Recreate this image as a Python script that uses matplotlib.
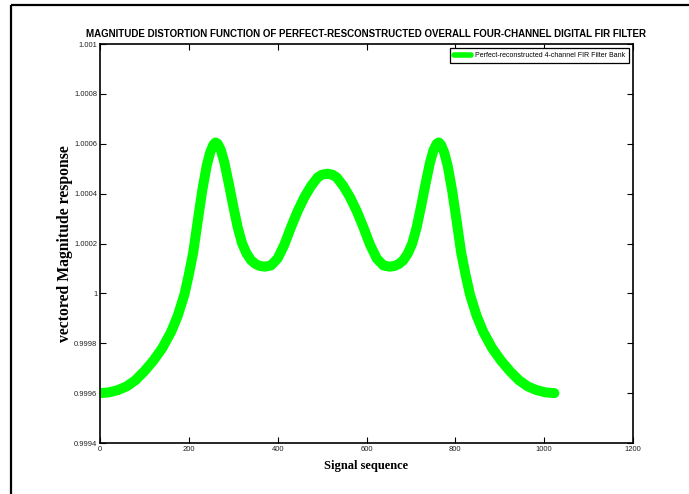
import matplotlib
matplotlib.use("Agg")
import matplotlib.pyplot as plt
from matplotlib.lines import Line2D

# Sample index and magnitude of the overall distortion function
sample_index = [0, 20, 40, 60, 80, 100, 120, 140, 160, 175, 190, 200, 210, 220,
                230, 240, 248, 255, 260, 265, 272, 280, 290, 300, 310, 320, 330,
                340, 350, 360, 371, 385, 400, 415, 430, 445, 460, 475, 490, 500,
                512,
                523, 533, 548, 563, 578, 593, 608, 623, 638, 652, 663, 673, 683,
                693, 703, 713, 723, 733, 743, 751, 758, 763, 768, 775, 783, 793,
                803, 813, 823, 833, 848, 863, 883, 903, 923, 943, 963, 983, 1003,
                1023]
magnitude = [0.99960, 0.999603, 0.999612, 0.999627, 0.999652, 0.999688, 0.999730,
             0.999780, 0.999845, 0.999910, 0.999995, 1.000075, 1.000165, 1.000290,
             1.000410, 1.000510, 1.000565, 1.000595, 1.000605, 1.000600, 1.000575,
             1.000525, 1.000440, 1.000350, 1.000265, 1.000200, 1.000160, 1.000133,
             1.000118, 1.000110, 1.000107, 1.000112, 1.000140, 1.000195, 1.000265,
             1.000330, 1.000385, 1.000430, 1.000465, 1.000476,
             1.000480,
             1.000476, 1.000465, 1.000430, 1.000385, 1.000330, 1.000265, 1.000195,
             1.000140, 1.000112, 1.000107, 1.000110, 1.000118, 1.000133, 1.000160,
             1.000200, 1.000265, 1.000350, 1.000440, 1.000525, 1.000575, 1.000600,
             1.000605, 1.000595, 1.000565, 1.000510, 1.000410, 1.000290, 1.000165,
             1.000075, 0.999995, 0.999910, 0.999845, 0.999780, 0.999730, 0.999688,
             0.999652, 0.999627, 0.999612, 0.999603, 0.99960]

x_ticks = [0, 200, 400, 600, 800, 1000, 1200]
y_ticks = [0.9994, 0.9996, 0.9998, 1.0, 1.0002, 1.0004, 1.0006, 1.0008, 1.001]
y_tick_labels = ["0.9994", "0.9996", "0.9998", "1", "1.0002", "1.0004",
                 "1.0006", "1.0008", "1.001"]

SANS = "Liberation Sans"

W, H = 689, 494
fig = plt.figure(figsize=(W / 100, H / 100), dpi=100)
fig.patch.set_facecolor("white")

# outer frame lines of the figure window
fig.add_artist(Line2D([11 / W, 11 / W], [0, 1 - 5 / H], transform=fig.transFigure,
                      color="black", lw=1.6, solid_capstyle="butt"))
fig.add_artist(Line2D([11 / W, 1], [1 - 5 / H, 1 - 5 / H], transform=fig.transFigure,
                      color="black", lw=1.6, solid_capstyle="butt"))

ax = fig.add_axes([100 / W, (H - 443) / H, 533 / W, 399 / H])
ax.plot(sample_index, magnitude, color="#00ff00", lw=7.2,
        solid_capstyle="round", solid_joinstyle="round",
        label="Perfect-reconstructed 4-channel FIR Filter Bank")

ax.set_xlim(0, 1200)
ax.set_ylim(0.9994, 1.001)
ax.set_xticks(x_ticks)
ax.set_xticklabels([str(t) for t in x_ticks])
ax.set_yticks(y_ticks)
ax.set_yticklabels(y_tick_labels)
ax.tick_params(direction="in", length=4, width=0.8, top=True, right=True,
               labelsize=5.5, pad=2, colors="black")
for lbl in ax.get_xticklabels() + ax.get_yticklabels():
    lbl.set_family(SANS)
    lbl.set_color("#222222")
for sp in ax.spines.values():
    sp.set_linewidth(1.2)

ax.set_title("MAGNITUDE DISTORTION FUNCTION OF PERFECT-RESCONSTRUCTED OVERALL "
             "FOUR-CHANNEL DIGITAL FIR FILTER",
             family=SANS, fontweight="bold", fontsize=7.05, pad=5)
ax.set_xlabel("Signal sequence", family="Liberation Serif", fontweight="bold",
              fontsize=9, labelpad=5)
ax.set_ylabel("vectored Magnitude response", family="Liberation Serif",
              fontweight="bold", fontsize=11.3, labelpad=0.5)

leg = ax.legend(loc="upper right", handlelength=2.4,
                borderaxespad=0.6, fancybox=False, framealpha=1,
                borderpad=0.6, handletextpad=0.5,
                prop={"family": SANS, "size": 5.0})
leg.get_frame().set_edgecolor("black")
leg.get_frame().set_linewidth(0.9)
for h in leg.get_lines():
    h.set_linewidth(4)

fig.savefig("out.png", dpi=100)
